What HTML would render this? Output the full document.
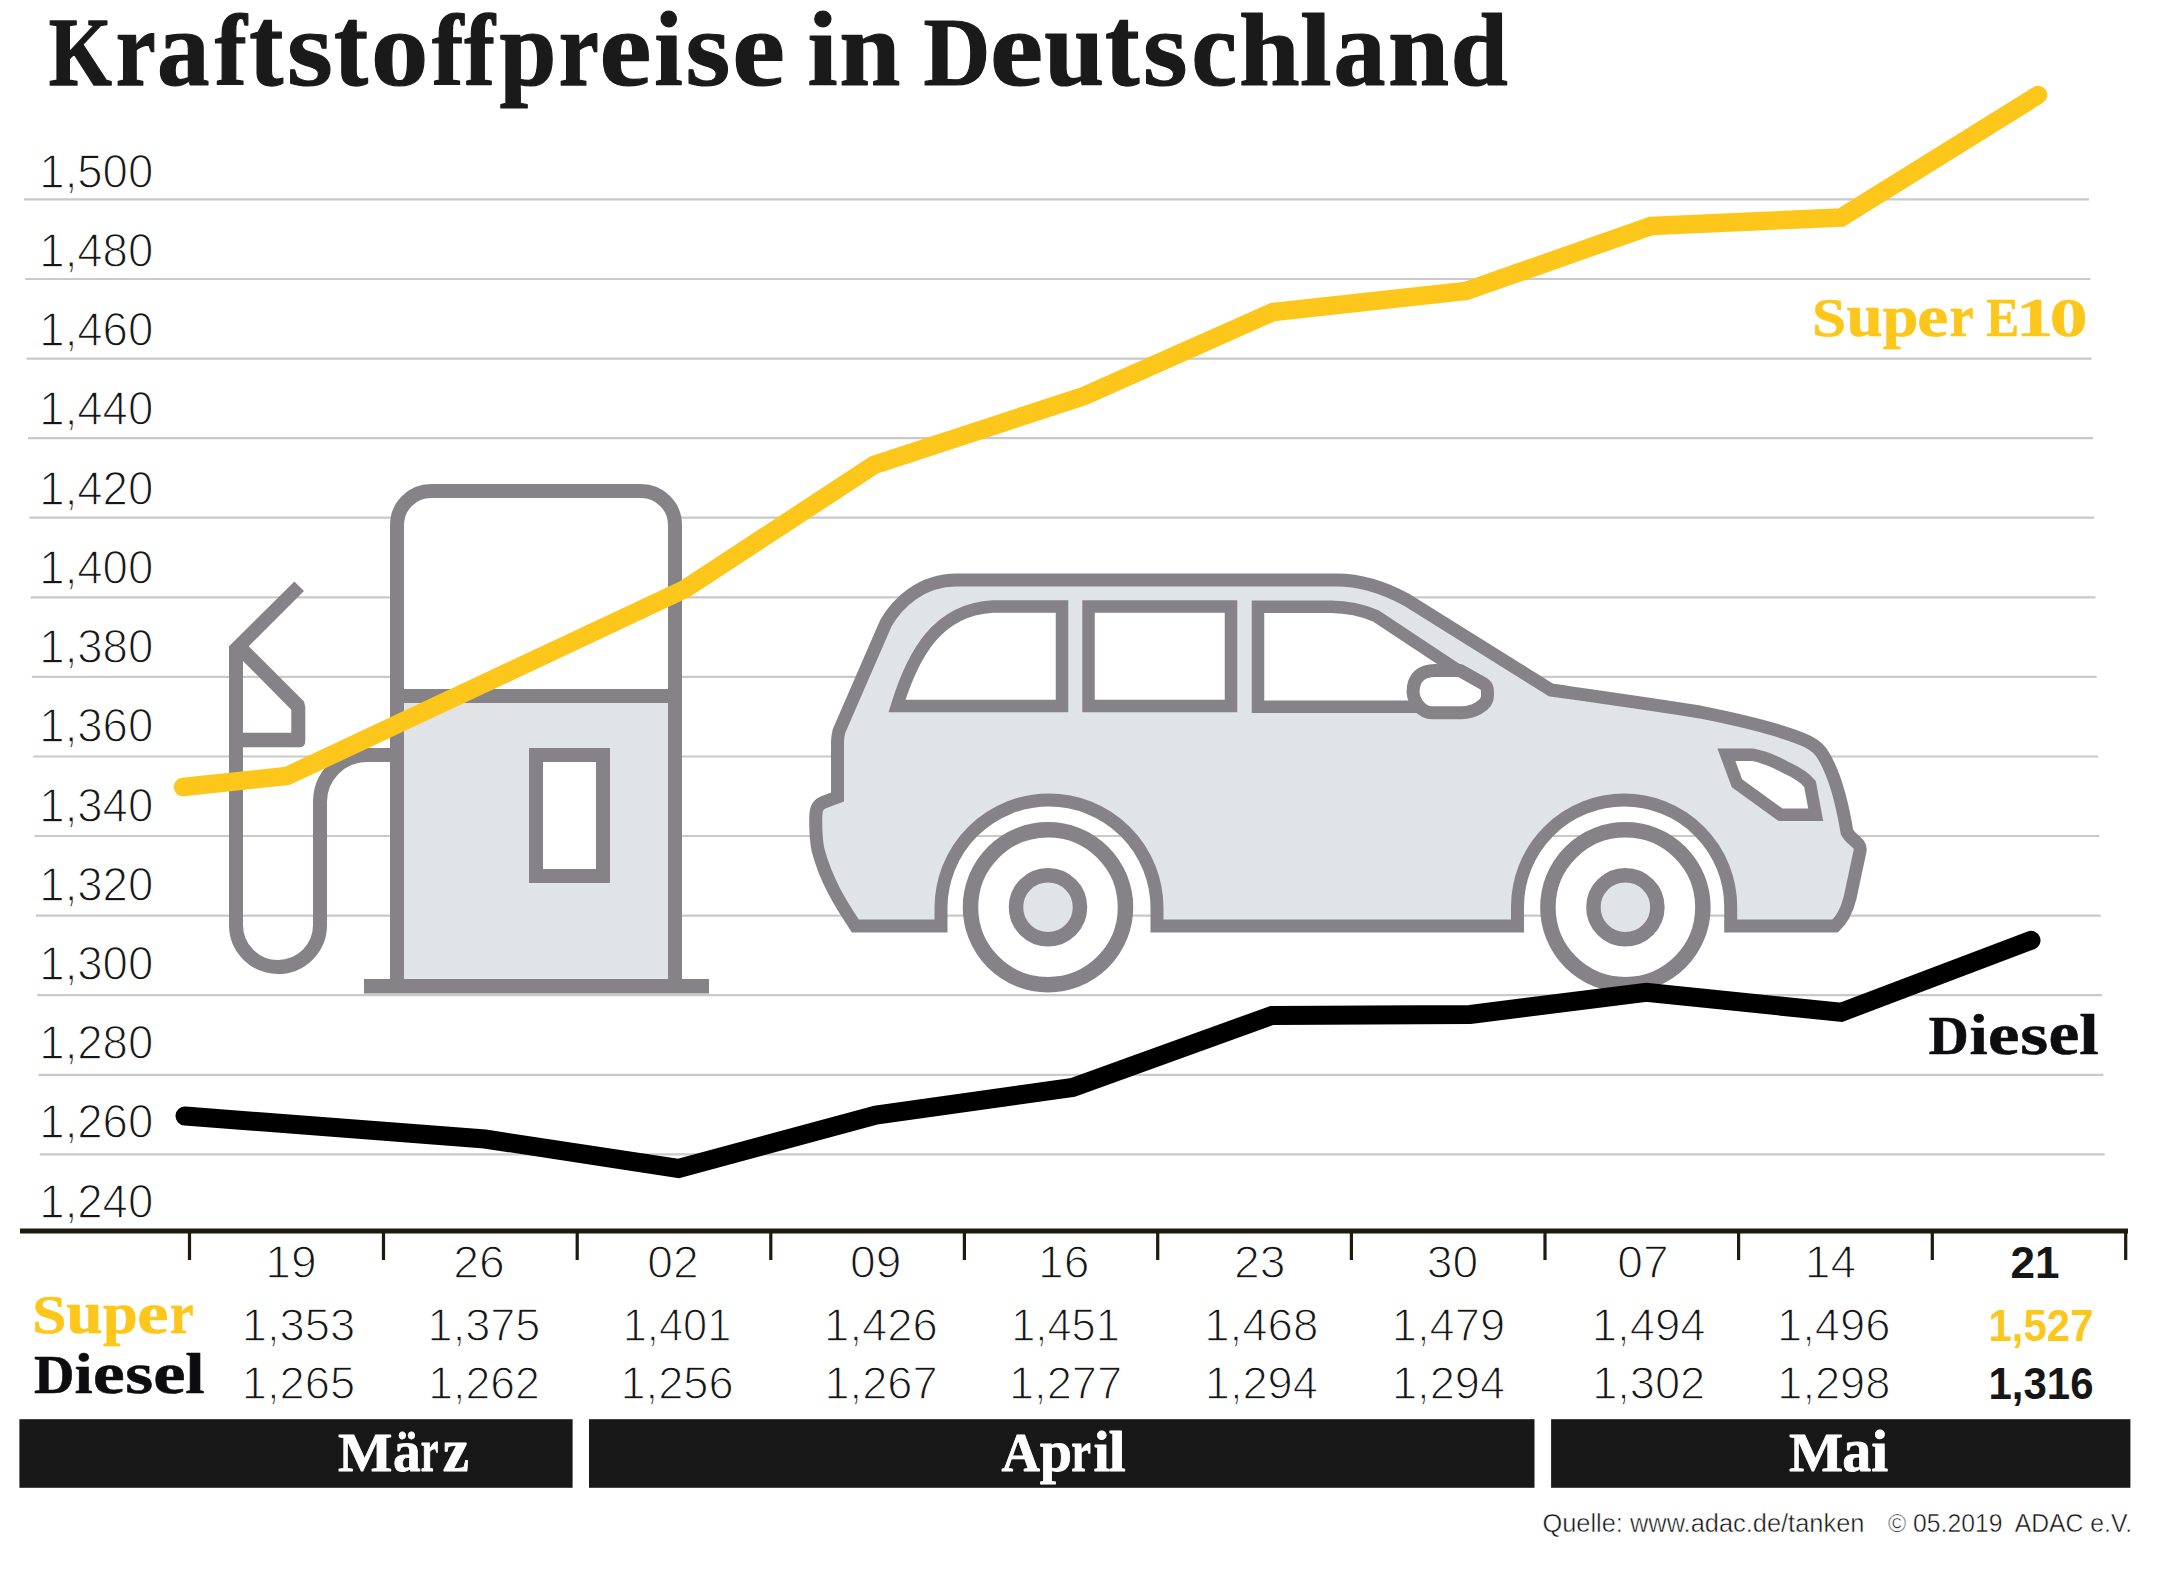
<!DOCTYPE html>
<html><head><meta charset="utf-8"><style>
html,body{margin:0;padding:0;background:#fff;overflow:hidden;}
svg{display:block;}
.ax{font-family:"Liberation Sans",sans-serif;font-size:47.7px;fill:#161616;stroke:#fff;stroke-width:1.3px;}
.tn{font-family:"Liberation Sans",sans-serif;font-size:46.2px;fill:#161616;stroke:#fff;stroke-width:1.3px;}
.tnb{font-family:"Liberation Sans",sans-serif;font-size:44px;font-weight:bold;fill:#161616;}
.tt{font-family:"Liberation Serif",serif;font-size:93px;font-weight:bold;fill:#1a1a1a;stroke:#1a1a1a;stroke-width:5px;stroke-linejoin:round;}
.sb{font-family:"Liberation Serif",serif;font-weight:bold;}
.gl{font-family:"Liberation Serif",serif;font-weight:bold;font-size:100px;}
.ft{font-family:"Liberation Sans",sans-serif;font-size:26.5px;fill:#111;stroke:#fff;stroke-width:0.5px;}
</style></head><body>
<svg width="2169" height="1573" viewBox="0 0 2169 1573">
<line x1="24.0" y1="199.4" x2="2089.0" y2="199.4" stroke="#c9c9c9" stroke-width="2.2"/>
<line x1="25.3" y1="279.0" x2="2090.3" y2="279.0" stroke="#c9c9c9" stroke-width="2.2"/>
<line x1="26.6" y1="358.6" x2="2091.6" y2="358.6" stroke="#c9c9c9" stroke-width="2.2"/>
<line x1="28.0" y1="438.1" x2="2092.9" y2="438.1" stroke="#c9c9c9" stroke-width="2.2"/>
<line x1="29.3" y1="517.7" x2="2094.2" y2="517.7" stroke="#c9c9c9" stroke-width="2.2"/>
<line x1="30.6" y1="597.3" x2="2095.5" y2="597.3" stroke="#c9c9c9" stroke-width="2.2"/>
<line x1="31.9" y1="676.9" x2="2096.8" y2="676.9" stroke="#c9c9c9" stroke-width="2.2"/>
<line x1="33.2" y1="756.5" x2="2098.1" y2="756.5" stroke="#c9c9c9" stroke-width="2.2"/>
<line x1="34.6" y1="836.0" x2="2099.4" y2="836.0" stroke="#c9c9c9" stroke-width="2.2"/>
<line x1="35.9" y1="915.6" x2="2100.7" y2="915.6" stroke="#c9c9c9" stroke-width="2.2"/>
<line x1="37.2" y1="995.2" x2="2102.0" y2="995.2" stroke="#c9c9c9" stroke-width="2.2"/>
<line x1="38.5" y1="1074.8" x2="2103.3" y2="1074.8" stroke="#c9c9c9" stroke-width="2.2"/>
<line x1="39.8" y1="1154.4" x2="2104.7" y2="1154.4" stroke="#c9c9c9" stroke-width="2.2"/>
<text x="39.3" y="187.7" class="ax" textLength="114" lengthAdjust="spacingAndGlyphs">1,500</text>
<text x="39.3" y="266.9" class="ax" textLength="114" lengthAdjust="spacingAndGlyphs">1,480</text>
<text x="39.3" y="346.1" class="ax" textLength="114" lengthAdjust="spacingAndGlyphs">1,460</text>
<text x="39.3" y="425.4" class="ax" textLength="114" lengthAdjust="spacingAndGlyphs">1,440</text>
<text x="39.3" y="504.6" class="ax" textLength="114" lengthAdjust="spacingAndGlyphs">1,420</text>
<text x="39.3" y="583.8" class="ax" textLength="114" lengthAdjust="spacingAndGlyphs">1,400</text>
<text x="39.3" y="663.0" class="ax" textLength="114" lengthAdjust="spacingAndGlyphs">1,380</text>
<text x="39.3" y="742.2" class="ax" textLength="114" lengthAdjust="spacingAndGlyphs">1,360</text>
<text x="39.3" y="821.5" class="ax" textLength="114" lengthAdjust="spacingAndGlyphs">1,340</text>
<text x="39.3" y="900.7" class="ax" textLength="114" lengthAdjust="spacingAndGlyphs">1,320</text>
<text x="39.3" y="979.9" class="ax" textLength="114" lengthAdjust="spacingAndGlyphs">1,300</text>
<text x="39.3" y="1059.1" class="ax" textLength="114" lengthAdjust="spacingAndGlyphs">1,280</text>
<text x="39.3" y="1138.3" class="ax" textLength="114" lengthAdjust="spacingAndGlyphs">1,260</text>
<text x="39.3" y="1217.6" class="ax" textLength="114" lengthAdjust="spacingAndGlyphs">1,240</text>
<rect x="20" y="1228.5" width="2108" height="5" fill="#1f1a0e"/>
<rect x="187.9" y="1231" width="3.2" height="29" fill="#1f1a0e"/>
<rect x="381.9" y="1231" width="3.2" height="29" fill="#1f1a0e"/>
<rect x="575.6" y="1231" width="3.2" height="29" fill="#1f1a0e"/>
<rect x="769.2" y="1231" width="3.2" height="29" fill="#1f1a0e"/>
<rect x="962.8" y="1231" width="3.2" height="29" fill="#1f1a0e"/>
<rect x="1156.1" y="1231" width="3.2" height="29" fill="#1f1a0e"/>
<rect x="1349.8" y="1231" width="3.2" height="29" fill="#1f1a0e"/>
<rect x="1543.4" y="1231" width="3.2" height="29" fill="#1f1a0e"/>
<rect x="1737.0" y="1231" width="3.2" height="29" fill="#1f1a0e"/>
<rect x="1930.7" y="1231" width="3.2" height="29" fill="#1f1a0e"/>
<rect x="2124.1" y="1231" width="3.2" height="29" fill="#1f1a0e"/>
<path d="M397,979 L397,525 A34,34 0 0 1 431,491 L641,491 A34,34 0 0 1 675,525 L675,979 Z" fill="#fff" stroke="none"/>
<rect x="397" y="696" width="278" height="283" fill="#e1e4e7"/>
<path d="M397,979 L397,525 A34,34 0 0 1 431,491 L641,491 A34,34 0 0 1 675,525 L675,979" fill="none" stroke="#858388" stroke-width="14"/>
<line x1="390" y1="696" x2="682" y2="696" stroke="#858388" stroke-width="14"/>
<rect x="364" y="979" width="345" height="14.5" fill="#858388"/>
<rect x="536" y="755" width="67" height="121" fill="#fff" stroke="#858388" stroke-width="14"/>
<path d="M229,646.3 L294.4,581.4 L304,591 L248.7,646.3 L304,701.5 L305.3,707 L305.3,741 Q305.3,747.3 299,747.3 L243,747.3 L243,760 L229,760 Z M243,660.9 L291.3,709.8 L291.3,732.7 L243,732.7 Z" fill="#858388" fill-rule="evenodd"/>
<path d="M236,745 L236,925 A42,42 0 0 0 320,925 L320,802 A47,47 0 0 1 367,755 L391,755" fill="none" stroke="#858388" stroke-width="14"/>
<path d="M956.6,580 L1337,580 C1362,580 1385,588 1407,600 L1551,690 C1600,697 1650,704 1700,712 C1740,720 1780,730 1802,739 C1812,743 1818,748 1821,752 C1830,765 1840,790 1847,832 C1850,838 1855,840 1859,845 C1861,848 1860,852 1859,856 L1850,898 C1847,910 1842,920 1835,926 L1730.7,926 L1730.7,906.6 A106.6,106.6 0 0 0 1517.5,906.6 L1517.5,926 L1157,926 L1157,908 A108,108 0 0 0 941,908 L941,926 L855.4,926 C840,903 826,880 818,850 C816,840 815.7,828 815.7,820 C815.7,810 817,805 823,802.5 L837.5,797 L837.5,742 C837.5,738 838,735 839,731 L886,623 C897,604 920,580 956.6,580 Z" fill="#e1e4e7" stroke="#858388" stroke-width="13" stroke-linejoin="miter" stroke-miterlimit="4"/>
<path d="M897,706 L1062,706 L1062,606.5 L993,606.5 C965,608 945,620 930,638 C915,656 905,680 897,706 Z" fill="#fff" stroke="#858388" stroke-width="12.5" stroke-linejoin="miter"/>
<rect x="1088.5" y="606.5" width="142.5" height="99.5" fill="#fff" stroke="#858388" stroke-width="12.5"/>
<path d="M1258,606.8 L1331,606.8 C1348,607 1362,610 1376,616 L1453,667 L1420,706.7 L1258,706.7 Z" fill="#fff" stroke="#858388" stroke-width="12.5"/>
<path d="M1413,692 C1413,677 1422,670.5 1435,670.5 L1460,670.5 L1484,684 C1487.5,686.5 1487.5,689 1487.5,696 C1487.5,706 1472,712.7 1462,712.7 L1432,712.7 C1422,712.7 1414,703 1413,692 Z" fill="#fff" stroke="#858388" stroke-width="13" stroke-linejoin="round"/>
<path d="M1726.4,754.7 L1752,754.7 C1765,757 1776,762 1786,767.6 C1798,773 1806,779 1810,784 L1815.7,814.7 L1780.5,814.7 L1737,783.3 Z" fill="#fff" stroke="#858388" stroke-width="12.5" stroke-linejoin="miter"/>
<circle cx="1048" cy="907.2" r="77.5" fill="#fff" stroke="#858388" stroke-width="15.5"/>
<circle cx="1048" cy="907.2" r="32" fill="#e1e4e7" stroke="#858388" stroke-width="14.5"/>
<circle cx="1625.4" cy="907.2" r="77.5" fill="#fff" stroke="#858388" stroke-width="15.5"/>
<circle cx="1625.4" cy="907.2" r="32" fill="#e1e4e7" stroke="#858388" stroke-width="14.5"/>
<polyline points="183,787 287,776 685,589 874,465 1084,396 1273,312 1466,291 1651,226 1841,217.5 2038,95" fill="none" stroke="#fcc71a" stroke-width="18.5" stroke-linecap="round" stroke-linejoin="miter" stroke-miterlimit="10"/>
<polyline points="185,1116 485,1139 678.5,1168.5 876,1115 1072.7,1087.5 1272,1015.4 1470.3,1014.4 1646.2,992.4 1841,1012.3 2031,940.3" fill="none" stroke="#000" stroke-width="19" stroke-linecap="round" stroke-linejoin="miter" stroke-miterlimit="10"/>
<text transform="matrix(0.8115,0,0,0.9835,48.81,84.6)" class="gl" style="fill:#1a1a1a;stroke:#1a1a1a;stroke-width:1.2px;stroke-linejoin:round" vector-effect="non-scaling-stroke">K</text><text transform="matrix(0.9001,0,0,1.0789,115.68,84.6)" class="gl" style="fill:#1a1a1a;stroke:#1a1a1a;stroke-width:1.2px;stroke-linejoin:round" vector-effect="non-scaling-stroke">r</text><text transform="matrix(1.0516,0,0,1.0890,157.11,84.6)" class="gl" style="fill:#1a1a1a;stroke:#1a1a1a;stroke-width:1.2px;stroke-linejoin:round" vector-effect="non-scaling-stroke">a</text><text transform="matrix(0.9659,0,0,1.0169,214.69,84.6)" class="gl" style="fill:#1a1a1a;stroke:#1a1a1a;stroke-width:1.2px;stroke-linejoin:round" vector-effect="non-scaling-stroke">f</text><text transform="matrix(1.0240,0,0,1.1386,249.15,84.6)" class="gl" style="fill:#1a1a1a;stroke:#1a1a1a;stroke-width:1.2px;stroke-linejoin:round" vector-effect="non-scaling-stroke">t</text><text transform="matrix(1.1780,0,0,1.0845,286.93,84.6)" class="gl" style="fill:#1a1a1a;stroke:#1a1a1a;stroke-width:1.2px;stroke-linejoin:round" vector-effect="non-scaling-stroke">s</text><text transform="matrix(1.0240,0,0,1.1386,334.05,84.6)" class="gl" style="fill:#1a1a1a;stroke:#1a1a1a;stroke-width:1.2px;stroke-linejoin:round" vector-effect="non-scaling-stroke">t</text><text transform="matrix(1.1467,0,0,1.0845,370.93,84.6)" class="gl" style="fill:#1a1a1a;stroke:#1a1a1a;stroke-width:1.2px;stroke-linejoin:round" vector-effect="non-scaling-stroke">o</text><text transform="matrix(0.9420,0,0,1.0169,431.91,84.6)" class="gl" style="fill:#1a1a1a;stroke:#1a1a1a;stroke-width:1.2px;stroke-linejoin:round" vector-effect="non-scaling-stroke">f</text><text transform="matrix(0.9241,0,0,1.0169,464.22,84.6)" class="gl" style="fill:#1a1a1a;stroke:#1a1a1a;stroke-width:1.2px;stroke-linejoin:round" vector-effect="non-scaling-stroke">f</text><text transform="matrix(1.0220,0,0,1.0845,499.50,84.6)" class="gl" style="fill:#1a1a1a;stroke:#1a1a1a;stroke-width:1.2px;stroke-linejoin:round" vector-effect="non-scaling-stroke">p</text><text transform="matrix(0.9026,0,0,1.0789,558.68,84.6)" class="gl" style="fill:#1a1a1a;stroke:#1a1a1a;stroke-width:1.2px;stroke-linejoin:round" vector-effect="non-scaling-stroke">r</text><text transform="matrix(1.1673,0,0,1.0867,599.61,84.6)" class="gl" style="fill:#1a1a1a;stroke:#1a1a1a;stroke-width:1.2px;stroke-linejoin:round" vector-effect="non-scaling-stroke">e</text><text transform="matrix(1.0240,0,0,1.0579,654.35,84.6)" class="gl" style="fill:#1a1a1a;stroke:#1a1a1a;stroke-width:1.2px;stroke-linejoin:round" vector-effect="non-scaling-stroke">i</text><text transform="matrix(1.1511,0,0,1.0845,685.42,84.6)" class="gl" style="fill:#1a1a1a;stroke:#1a1a1a;stroke-width:1.2px;stroke-linejoin:round" vector-effect="non-scaling-stroke">s</text><text transform="matrix(1.1855,0,0,1.0867,732.25,84.6)" class="gl" style="fill:#1a1a1a;stroke:#1a1a1a;stroke-width:1.2px;stroke-linejoin:round" vector-effect="non-scaling-stroke">e</text><text transform="matrix(1.0820,0,0,1.0579,807.42,84.6)" class="gl" style="fill:#1a1a1a;stroke:#1a1a1a;stroke-width:1.2px;stroke-linejoin:round" vector-effect="non-scaling-stroke">i</text><text transform="matrix(1.0989,0,0,1.0845,839.15,84.6)" class="gl" style="fill:#1a1a1a;stroke:#1a1a1a;stroke-width:1.2px;stroke-linejoin:round" vector-effect="non-scaling-stroke">n</text><text transform="matrix(0.9241,0,0,0.9835,923.48,84.6)" class="gl" style="fill:#1a1a1a;stroke:#1a1a1a;stroke-width:1.2px;stroke-linejoin:round" vector-effect="non-scaling-stroke">D</text><text transform="matrix(1.1960,0,0,1.0867,990.11,84.6)" class="gl" style="fill:#1a1a1a;stroke:#1a1a1a;stroke-width:1.2px;stroke-linejoin:round" vector-effect="non-scaling-stroke">e</text><text transform="matrix(1.0775,0,0,1.0981,1044.27,84.6)" class="gl" style="fill:#1a1a1a;stroke:#1a1a1a;stroke-width:1.2px;stroke-linejoin:round" vector-effect="non-scaling-stroke">u</text><text transform="matrix(1.0368,0,0,1.1386,1105.03,84.6)" class="gl" style="fill:#1a1a1a;stroke:#1a1a1a;stroke-width:1.2px;stroke-linejoin:round" vector-effect="non-scaling-stroke">t</text><text transform="matrix(1.1451,0,0,1.0845,1142.93,84.6)" class="gl" style="fill:#1a1a1a;stroke:#1a1a1a;stroke-width:1.2px;stroke-linejoin:round" vector-effect="non-scaling-stroke">s</text><text transform="matrix(1.0240,0,0,1.0845,1191.60,84.6)" class="gl" style="fill:#1a1a1a;stroke:#1a1a1a;stroke-width:1.2px;stroke-linejoin:round" vector-effect="non-scaling-stroke">c</text><text transform="matrix(1.0908,0,0,1.0319,1239.08,84.6)" class="gl" style="fill:#1a1a1a;stroke:#1a1a1a;stroke-width:1.2px;stroke-linejoin:round" vector-effect="non-scaling-stroke">h</text><text transform="matrix(1.1359,0,0,1.0319,1299.88,84.6)" class="gl" style="fill:#1a1a1a;stroke:#1a1a1a;stroke-width:1.2px;stroke-linejoin:round" vector-effect="non-scaling-stroke">l</text><text transform="matrix(1.0406,0,0,1.0890,1333.45,84.6)" class="gl" style="fill:#1a1a1a;stroke:#1a1a1a;stroke-width:1.2px;stroke-linejoin:round" vector-effect="non-scaling-stroke">a</text><text transform="matrix(1.0989,0,0,1.0845,1388.05,84.6)" class="gl" style="fill:#1a1a1a;stroke:#1a1a1a;stroke-width:1.2px;stroke-linejoin:round" vector-effect="non-scaling-stroke">n</text><text transform="matrix(1.0250,0,0,1.0319,1450.65,84.6)" class="gl" style="fill:#1a1a1a;stroke:#1a1a1a;stroke-width:1.2px;stroke-linejoin:round" vector-effect="non-scaling-stroke">d</text>
<text transform="matrix(0.6124,0,0,0.5452,1812.04,335.5)" class="gl" style="fill:#fcc71a;stroke:#fcc71a;stroke-width:0.6px;stroke-linejoin:round" vector-effect="non-scaling-stroke">S</text><text transform="matrix(0.6515,0,0,0.6144,1846.41,335.5)" class="gl" style="fill:#fcc71a;stroke:#fcc71a;stroke-width:0.6px;stroke-linejoin:round" vector-effect="non-scaling-stroke">u</text><text transform="matrix(0.6402,0,0,0.5985,1882.69,335.5)" class="gl" style="fill:#fcc71a;stroke:#fcc71a;stroke-width:0.6px;stroke-linejoin:round" vector-effect="non-scaling-stroke">p</text><text transform="matrix(0.6983,0,0,0.5997,1917.21,335.5)" class="gl" style="fill:#fcc71a;stroke:#fcc71a;stroke-width:0.6px;stroke-linejoin:round" vector-effect="non-scaling-stroke">e</text><text transform="matrix(0.5436,0,0,0.5954,1949.54,335.5)" class="gl" style="fill:#fcc71a;stroke:#fcc71a;stroke-width:0.6px;stroke-linejoin:round" vector-effect="non-scaling-stroke">r</text><text transform="matrix(0.4928,0,0,0.5513,1986.26,335.5)" class="gl" style="fill:#fcc71a;stroke:#fcc71a;stroke-width:0.6px;stroke-linejoin:round" vector-effect="non-scaling-stroke">E</text><text transform="matrix(0.7469,0,0,0.5468,2015.92,335.5)" class="gl" style="fill:#fcc71a;stroke:#fcc71a;stroke-width:0.6px;stroke-linejoin:round" vector-effect="non-scaling-stroke">1</text><text transform="matrix(0.7574,0,0,0.5428,2049.82,335.5)" class="gl" style="fill:#fcc71a;stroke:#fcc71a;stroke-width:0.6px;stroke-linejoin:round" vector-effect="non-scaling-stroke">0</text>
<text transform="matrix(0.5536,0,0,0.5574,1928.83,1053.6)" class="gl" style="fill:#0d0d0f;stroke:#0d0d0f;stroke-width:0.6px;stroke-linejoin:round" vector-effect="non-scaling-stroke">D</text><text transform="matrix(0.6550,0,0,0.5808,1969.46,1053.6)" class="gl" style="fill:#0d0d0f;stroke:#0d0d0f;stroke-width:0.6px;stroke-linejoin:round" vector-effect="non-scaling-stroke">i</text><text transform="matrix(0.7087,0,0,0.6019,1987.98,1053.6)" class="gl" style="fill:#0d0d0f;stroke:#0d0d0f;stroke-width:0.6px;stroke-linejoin:round" vector-effect="non-scaling-stroke">e</text><text transform="matrix(0.7175,0,0,0.6006,2020.13,1053.6)" class="gl" style="fill:#0d0d0f;stroke:#0d0d0f;stroke-width:0.6px;stroke-linejoin:round" vector-effect="non-scaling-stroke">s</text><text transform="matrix(0.6931,0,0,0.6019,2048.43,1053.6)" class="gl" style="fill:#0d0d0f;stroke:#0d0d0f;stroke-width:0.6px;stroke-linejoin:round" vector-effect="non-scaling-stroke">e</text><text transform="matrix(0.7006,0,0,0.5693,2079.23,1053.6)" class="gl" style="fill:#0d0d0f;stroke:#0d0d0f;stroke-width:0.6px;stroke-linejoin:round" vector-effect="non-scaling-stroke">l</text>
<text x="291" y="1277.7" class="tn" text-anchor="middle">19</text>
<text x="298.5" y="1341" class="tn" text-anchor="middle" style="fill:#161616" textLength="113.3" lengthAdjust="spacingAndGlyphs">1,353</text>
<text x="298.5" y="1398.7" class="tn" text-anchor="middle" textLength="113.3" lengthAdjust="spacingAndGlyphs">1,265</text>
<text x="479" y="1277.7" class="tn" text-anchor="middle">26</text>
<text x="484" y="1341" class="tn" text-anchor="middle" style="fill:#161616" textLength="112.8" lengthAdjust="spacingAndGlyphs">1,375</text>
<text x="484" y="1398.7" class="tn" text-anchor="middle" textLength="111.3" lengthAdjust="spacingAndGlyphs">1,262</text>
<text x="673" y="1277.7" class="tn" text-anchor="middle">02</text>
<text x="677" y="1341" class="tn" text-anchor="middle" style="fill:#161616" textLength="108.6" lengthAdjust="spacingAndGlyphs">1,401</text>
<text x="677" y="1398.7" class="tn" text-anchor="middle" textLength="113.1" lengthAdjust="spacingAndGlyphs">1,256</text>
<text x="875.8" y="1277.7" class="tn" text-anchor="middle">09</text>
<text x="881" y="1341" class="tn" text-anchor="middle" style="fill:#161616" textLength="113.8" lengthAdjust="spacingAndGlyphs">1,426</text>
<text x="881" y="1398.7" class="tn" text-anchor="middle" textLength="113.1" lengthAdjust="spacingAndGlyphs">1,267</text>
<text x="1063.7" y="1277.7" class="tn" text-anchor="middle">16</text>
<text x="1065.5" y="1341" class="tn" text-anchor="middle" style="fill:#161616" textLength="108.6" lengthAdjust="spacingAndGlyphs">1,451</text>
<text x="1065.5" y="1398.7" class="tn" text-anchor="middle" textLength="113.1" lengthAdjust="spacingAndGlyphs">1,277</text>
<text x="1259.7" y="1277.7" class="tn" text-anchor="middle">23</text>
<text x="1261.3" y="1341" class="tn" text-anchor="middle" style="fill:#161616" textLength="114.2" lengthAdjust="spacingAndGlyphs">1,468</text>
<text x="1261.3" y="1398.7" class="tn" text-anchor="middle" textLength="113.1" lengthAdjust="spacingAndGlyphs">1,294</text>
<text x="1452.4" y="1277.7" class="tn" text-anchor="middle">30</text>
<text x="1448.5" y="1341" class="tn" text-anchor="middle" style="fill:#161616" textLength="113.3" lengthAdjust="spacingAndGlyphs">1,479</text>
<text x="1448.5" y="1398.7" class="tn" text-anchor="middle" textLength="113.1" lengthAdjust="spacingAndGlyphs">1,294</text>
<text x="1643" y="1277.7" class="tn" text-anchor="middle">07</text>
<text x="1648.7" y="1341" class="tn" text-anchor="middle" style="fill:#161616" textLength="114.1" lengthAdjust="spacingAndGlyphs">1,494</text>
<text x="1648.7" y="1398.7" class="tn" text-anchor="middle" textLength="113.1" lengthAdjust="spacingAndGlyphs">1,302</text>
<text x="1830.5" y="1277.7" class="tn" text-anchor="middle">14</text>
<text x="1833.8" y="1341" class="tn" text-anchor="middle" style="fill:#161616" textLength="113.5" lengthAdjust="spacingAndGlyphs">1,496</text>
<text x="1833.8" y="1398.7" class="tn" text-anchor="middle" textLength="113.1" lengthAdjust="spacingAndGlyphs">1,298</text>
<text x="2035" y="1277.7" class="tnb" text-anchor="middle">21</text>
<text x="2041" y="1341" class="tnb" text-anchor="middle" style="fill:#fcc71a" textLength="105" lengthAdjust="spacingAndGlyphs">1,527</text>
<text x="2041" y="1398.7" class="tnb" text-anchor="middle" textLength="105" lengthAdjust="spacingAndGlyphs">1,316</text>
<text transform="matrix(0.6146,0,0,0.5452,32.13,1333.4)" class="gl" style="fill:#fcc71a;stroke:#fcc71a;stroke-width:0.6px;stroke-linejoin:round" vector-effect="non-scaling-stroke">S</text><text transform="matrix(0.6535,0,0,0.6144,66.31,1333.4)" class="gl" style="fill:#fcc71a;stroke:#fcc71a;stroke-width:0.6px;stroke-linejoin:round" vector-effect="non-scaling-stroke">u</text><text transform="matrix(0.6243,0,0,0.5985,102.91,1333.4)" class="gl" style="fill:#fcc71a;stroke:#fcc71a;stroke-width:0.6px;stroke-linejoin:round" vector-effect="non-scaling-stroke">p</text><text transform="matrix(0.7035,0,0,0.5997,137.20,1333.4)" class="gl" style="fill:#fcc71a;stroke:#fcc71a;stroke-width:0.6px;stroke-linejoin:round" vector-effect="non-scaling-stroke">e</text><text transform="matrix(0.5385,0,0,0.5954,169.65,1333.4)" class="gl" style="fill:#fcc71a;stroke:#fcc71a;stroke-width:0.6px;stroke-linejoin:round" vector-effect="non-scaling-stroke">r</text>
<text transform="matrix(0.5597,0,0,0.5513,33.92,1392.5)" class="gl" style="fill:#0d0d0f;stroke:#0d0d0f;stroke-width:0.6px;stroke-linejoin:round" vector-effect="non-scaling-stroke">D</text><text transform="matrix(0.6550,0,0,0.5765,74.46,1392.5)" class="gl" style="fill:#0d0d0f;stroke:#0d0d0f;stroke-width:0.6px;stroke-linejoin:round" vector-effect="non-scaling-stroke">i</text><text transform="matrix(0.7139,0,0,0.5997,92.96,1392.5)" class="gl" style="fill:#0d0d0f;stroke:#0d0d0f;stroke-width:0.6px;stroke-linejoin:round" vector-effect="non-scaling-stroke">e</text><text transform="matrix(0.7175,0,0,0.5985,125.13,1392.5)" class="gl" style="fill:#0d0d0f;stroke:#0d0d0f;stroke-width:0.6px;stroke-linejoin:round" vector-effect="non-scaling-stroke">s</text><text transform="matrix(0.7270,0,0,0.5997,153.32,1392.5)" class="gl" style="fill:#0d0d0f;stroke:#0d0d0f;stroke-width:0.6px;stroke-linejoin:round" vector-effect="non-scaling-stroke">e</text><text transform="matrix(0.7006,0,0,0.5635,185.13,1392.5)" class="gl" style="fill:#0d0d0f;stroke:#0d0d0f;stroke-width:0.6px;stroke-linejoin:round" vector-effect="non-scaling-stroke">l</text>
<rect x="19.4" y="1419.2" width="553.2" height="68.6" fill="#181818"/>
<rect x="589" y="1419.2" width="945.5" height="68.6" fill="#181818"/>
<rect x="1551.1" y="1419.2" width="579.3" height="68.6" fill="#181818"/>
<text transform="matrix(0.5769,0,0,0.5590,338.01,1471)" class="gl" style="fill:#fff;stroke:#fff;stroke-width:0.8px;stroke-linejoin:round" vector-effect="non-scaling-stroke">M</text><text transform="matrix(0.5545,0,0,0.5890,392.91,1471)" class="gl" style="fill:#fff;stroke:#fff;stroke-width:0.8px;stroke-linejoin:round" vector-effect="non-scaling-stroke">ä</text><text transform="matrix(0.3995,0,0,0.6038,420.63,1471)" class="gl" style="fill:#fff;stroke:#fff;stroke-width:0.8px;stroke-linejoin:round" vector-effect="non-scaling-stroke">r</text><text transform="matrix(0.5915,0,0,0.6231,442.64,1471)" class="gl" style="fill:#fff;stroke:#fff;stroke-width:0.8px;stroke-linejoin:round" vector-effect="non-scaling-stroke">z</text>
<text transform="matrix(0.5333,0,0,0.5559,1001.38,1470.8)" class="gl" style="fill:#fff;stroke:#fff;stroke-width:0.8px;stroke-linejoin:round" vector-effect="non-scaling-stroke">A</text><text transform="matrix(0.5806,0,0,0.6006,1039.86,1470.8)" class="gl" style="fill:#fff;stroke:#fff;stroke-width:0.8px;stroke-linejoin:round" vector-effect="non-scaling-stroke">p</text><text transform="matrix(0.4450,0,0,0.5975,1071.30,1470.8)" class="gl" style="fill:#fff;stroke:#fff;stroke-width:0.8px;stroke-linejoin:round" vector-effect="non-scaling-stroke">r</text><text transform="matrix(0.5846,0,0,0.5751,1093.52,1470.8)" class="gl" style="fill:#fff;stroke:#fff;stroke-width:0.8px;stroke-linejoin:round" vector-effect="non-scaling-stroke">i</text><text transform="matrix(0.6219,0,0,0.5664,1108.49,1470.8)" class="gl" style="fill:#fff;stroke:#fff;stroke-width:0.8px;stroke-linejoin:round" vector-effect="non-scaling-stroke">l</text>
<text transform="matrix(0.5735,0,0,0.5590,1789.12,1470.9)" class="gl" style="fill:#fff;stroke:#fff;stroke-width:0.8px;stroke-linejoin:round" vector-effect="non-scaling-stroke">M</text><text transform="matrix(0.5810,0,0,0.6095,1842.13,1470.9)" class="gl" style="fill:#fff;stroke:#fff;stroke-width:0.8px;stroke-linejoin:round" vector-effect="non-scaling-stroke">a</text><text transform="matrix(0.6094,0,0,0.5837,1871.16,1470.9)" class="gl" style="fill:#fff;stroke:#fff;stroke-width:0.8px;stroke-linejoin:round" vector-effect="non-scaling-stroke">i</text>
<text x="1542.4" y="1532" class="ft" textLength="322" lengthAdjust="spacingAndGlyphs">Quelle: www.adac.de/tanken</text>
<text x="1888" y="1532" class="ft" textLength="244" lengthAdjust="spacingAndGlyphs">© 05.2019&#160; ADAC e.V.</text>
</svg></body></html>
